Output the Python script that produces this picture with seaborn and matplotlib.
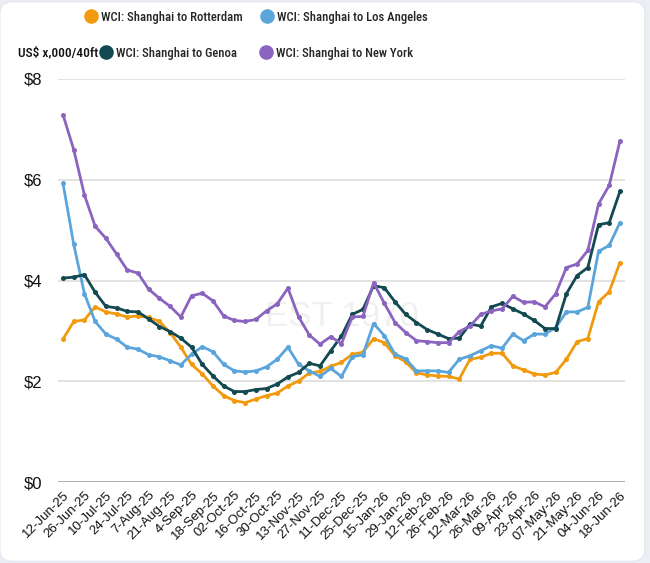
import matplotlib
matplotlib.use('Agg')
import matplotlib.pyplot as plt
from matplotlib import font_manager
from matplotlib.lines import Line2D
from matplotlib.patches import FancyBboxPatch
from matplotlib.transforms import ScaledTranslation
import numpy as np
import pandas as pd
import seaborn as sns

# weekly dates (1-Jan-26 missing in the source)
dates = ['12-Jun-25', '19-Jun-25', '26-Jun-25', '3-Jul-25', '10-Jul-25', '17-Jul-25', '24-Jul-25',
         '31-Jul-25', '7-Aug-25', '14-Aug-25', '21-Aug-25', '28-Aug-25', '4-Sep-25', '11-Sep-25',
         '18-Sep-25', '25-Sep-25', '02-Oct-25', '09-Oct-25', '16-Oct-25', '23-Oct-25', '30-Oct-25',
         '06-Nov-25', '13-Nov-25', '20-Nov-25', '27-Nov-25', '04-Dec-25', '11-Dec-25', '18-Dec-25',
         '25-Dec-25', '08-Jan-26', '15-Jan-26', '22-Jan-26', '29-Jan-26', '05-Feb-26', '12-Feb-26',
         '19-Feb-26', '26-Feb-26', '05-Mar-26', '12-Mar-26', '19-Mar-26', '26-Mar-26', '02-Apr-26',
         '09-Apr-26', '16-Apr-26', '23-Apr-26', '30-Apr-26', '07-May-26', '14-May-26', '21-May-26',
         '28-May-26', '04-Jun-26', '11-Jun-26', '18-Jun-26']

rotterdam = [2.84, 3.19, 3.22, 3.48, 3.38, 3.34, 3.28, 3.30, 3.27, 3.19, 2.97, 2.68, 2.34, 2.15,
             1.91, 1.72, 1.62, 1.58, 1.65, 1.72, 1.77, 1.91, 2.01, 2.17, 2.20, 2.30, 2.38,
             2.54, 2.58, 2.85, 2.77, 2.51, 2.39, 2.17, 2.13, 2.11, 2.10, 2.05, 2.44,
             2.48, 2.56, 2.56, 2.31, 2.23, 2.15, 2.13, 2.18, 2.44, 2.79, 2.85, 3.58, 3.78, 4.36]
los_angeles = [5.93, 4.72, 3.74, 3.19, 2.94, 2.84, 2.68, 2.64, 2.53, 2.49, 2.41, 2.33, 2.54, 2.69,
               2.59, 2.34, 2.21, 2.19, 2.21, 2.29, 2.44, 2.68, 2.34, 2.21, 2.10, 2.26, 2.10,
               2.49, 2.53, 3.15, 2.91, 2.54, 2.45, 2.21, 2.21, 2.21, 2.18, 2.44, 2.51,
               2.61, 2.71, 2.66, 2.94, 2.81, 2.94, 2.94, 3.07, 3.38, 3.38, 3.47, 4.58, 4.70, 5.15]
genoa = [4.05, 4.07, 4.12, 3.77, 3.49, 3.46, 3.39, 3.38, 3.24, 3.09, 2.99, 2.86, 2.68, 2.34,
         2.11, 1.91, 1.80, 1.80, 1.84, 1.86, 1.95, 2.09, 2.18, 2.36, 2.31, 2.61, 2.90,
         3.33, 3.43, 3.90, 3.86, 3.58, 3.33, 3.17, 3.03, 2.94, 2.85, 2.86, 3.14,
         3.10, 3.48, 3.55, 3.44, 3.34, 3.21, 3.05, 3.05, 3.74, 4.10, 4.26, 5.11, 5.15, 5.77]
new_york = [7.29, 6.60, 5.70, 5.08, 4.84, 4.53, 4.21, 4.15, 3.83, 3.65, 3.49, 3.28, 3.70, 3.75,
            3.60, 3.30, 3.21, 3.19, 3.23, 3.40, 3.54, 3.85, 3.28, 2.92, 2.74, 2.89, 2.75,
            3.28, 3.29, 3.96, 3.55, 3.17, 2.97, 2.81, 2.79, 2.77, 2.77, 2.99, 3.10,
            3.33, 3.40, 3.44, 3.69, 3.57, 3.58, 3.48, 3.74, 4.26, 4.33, 4.60, 5.52, 5.89, 6.77]

series = {
    'WCI: Shanghai to Rotterdam': rotterdam,
    'WCI: Shanghai to Los Angeles': los_angeles,
    'WCI: Shanghai to Genoa': genoa,
    'WCI: Shanghai to New York': new_york,
}
colors = {
    'WCI: Shanghai to Rotterdam': '#f29a0e',
    'WCI: Shanghai to Los Angeles': '#5aa5dc',
    'WCI: Shanghai to Genoa': '#134950',
    'WCI: Shanghai to New York': '#8b64bf',
}
y_ticks = [0, 2, 4, 6, 8]
y_labels = ['$0', '$2', '$4', '$6', '$8']
unit_label = 'US$ x,000/40ft'


def pick_font(names):
    have = {f.name for f in font_manager.fontManager.ttflist}
    for n in names:
        if n in have:
            return n
    return 'DejaVu Sans'


sns.set_style('white')
FONT = pick_font(['Roboto Condensed', 'Liberation Sans Narrow', 'Roboto', 'Liberation Sans'])
TICKFONT = pick_font(['Liberation Sans', 'Roboto'])
plt.rcParams['font.family'] = [FONT, 'DejaVu Sans']

df = pd.DataFrame({'x': np.arange(len(dates))})
for name, vals in series.items():
    df[name] = vals
long = df.melt(id_vars='x', var_name='route', value_name='rate')

W, H = 650, 563
fig = plt.figure(figsize=(W / 100, H / 100), dpi=100, facecolor='#eceef4')
fig.patches.append(FancyBboxPatch((0.0, 0.003), 0.992, 0.994, boxstyle='round,pad=0,rounding_size=0.02',
                                  transform=fig.transFigure, facecolor='white', edgecolor='#e3e6ee',
                                  linewidth=0.8, zorder=-10))
ax = fig.add_axes([0.0892, 0.1433, 0.8723, 0.7164])
ax.set_facecolor('none')

# faint watermark behind the lines
ax.text(0.5, 0.41, 'EST 1970', transform=ax.transAxes, ha='center', va='center',
        fontsize=25, color='#000000', alpha=0.06, zorder=0, family=TICKFONT)

sns.lineplot(data=long, x='x', y='rate', hue='route', palette=colors, linewidth=2.0,
             marker='o', markersize=3.6, markeredgewidth=0, legend=False, ax=ax)

ax.set_xlim(-0.47, len(dates) - 1 + 0.47)
ax.set_ylim(0, 8)
ax.set_yticks(y_ticks)
ax.set_yticklabels(y_labels, fontsize=12, color='#111111', family=TICKFONT)
ax.yaxis.grid(True, color='#dddddd', linewidth=1.2)
ax.tick_params(axis='y', length=0, pad=11)
ax.axhline(0, color='#aaaaaa', linewidth=1.3, zorder=1)
ticks = list(range(0, len(dates), 2))
ax.set_xticks(ticks)
ax.set_xticklabels([dates[i] for i in ticks], rotation=45, ha='right', rotation_mode='anchor',
                   fontsize=9.5, color='#111111', family=TICKFONT)
shift = ScaledTranslation(5 / 100, 0, fig.dpi_scale_trans)
for lab in ax.get_xticklabels():
    lab.set_transform(lab.get_transform() + shift)
ax.tick_params(axis='x', length=0, pad=5)
ax.set_xlabel('')
ax.set_ylabel('')
sns.despine(ax=ax, left=True, bottom=True, top=True, right=True)


# the reference font is narrow: size the text so its width matches
def fit_size(text, target_px, base=10.0, weight='medium'):
    t = fig.text(0, 0, text, fontsize=base, fontweight=weight)
    w = t.get_window_extent(renderer=fig.canvas.get_renderer()).width
    t.remove()
    return base * target_px / w


leg_size = fit_size('WCI: Shanghai to Rotterdam', 140)
unit_size = fit_size(unit_label, 80)

# legend entries placed one by one, like the wrapped html legend
legend_pos = {
    'WCI: Shanghai to Rotterdam': (85, 17),
    'WCI: Shanghai to Los Angeles': (261, 17),
    'WCI: Shanghai to Genoa': (100, 53),
    'WCI: Shanghai to New York': (260, 53),
}
for name, (px, py) in legend_pos.items():
    h = Line2D([], [], linestyle='none', marker='o', markersize=10.5, markeredgewidth=0,
               color=colors[name])
    fig.legend([h], [name], loc='center left', bbox_to_anchor=(px / W, 1 - py / H),
               frameon=False, handletextpad=0.35, handlelength=0.9, borderpad=0, borderaxespad=0,
               prop={'size': leg_size, 'weight': 'medium'})
fig.text(18 / W, 1 - 53 / H, unit_label, ha='left', va='center', fontsize=unit_size,
         fontweight='medium', color='#111111')

fig.savefig('out.png', dpi=100, facecolor=fig.get_facecolor())
